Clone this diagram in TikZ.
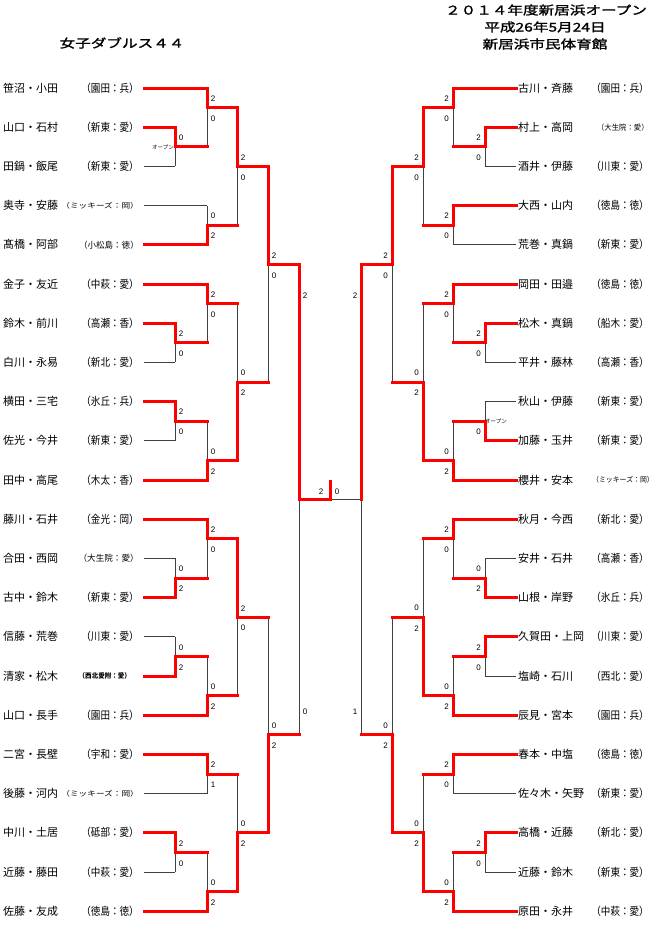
\documentclass[tikz,border=0pt]{standalone}
\usepackage{fontspec}
\usepackage{graphicx}
\setmainfont{Noto Sans CJK JP}
\newfontfamily\ttlfont[FakeStretch=1.3,FakeBold=1.5]{Noto Sans CJK JP}
\newfontfamily\clubfont[FakeStretch=0.87]{Noto Sans CJK JP}
\newfontfamily\scfont{Liberation Sans}
\pgfdeclarelayer{front}
\pgfsetlayers{main,front}
\tikzset{
  win/.style={draw=red, line width=3pt, line cap=rect},
  lose/.style={draw=black!75, line width=0.9pt},
  nm/.style={anchor=west, inner sep=0pt, font=\fontsize{11}{12}\selectfont},
  club/.style={anchor=east, inner sep=0pt, font=\clubfont\fontsize{11}{12}\selectfont},
  scr/.style={inner sep=0pt, font=\scfont\fontsize{8}{9}\selectfont},
  opn/.style={inner sep=0pt, font=\fontsize{5.5}{6}\selectfont},
  ttl/.style={inner sep=0pt, font=\ttlfont\fontsize{12}{13}\selectfont},
}
\newcommand\Ry[1]{(88+39.2*(#1))}
\newcommand\seg[3]{\ifnum#1=1\relax\begin{pgfonlayer}{front}\draw[win] #2 -- #3;\end{pgfonlayer}\else\draw[lose] #2 -- #3;\fi}
\newcommand\PL[4]{\seg{#4}{(#1,{\Ry{#3}})}{(#2,{\Ry{#3}})}}
\newcommand\MT[5]{\ifnum#5=1\relax
  \seg{1}{(#1,{\Ry{#2}})}{(#1,{\Ry{#3}})}\seg{0}{(#1,{\Ry{#3}})}{(#1,{\Ry{#4}})}%
  \else
  \seg{0}{(#1,{\Ry{#2}})}{(#1,{\Ry{#3}})}\seg{1}{(#1,{\Ry{#3}})}{(#1,{\Ry{#4}})}%
  \fi}
\newcounter{scn}
\newcommand\SL[4]{\stepcounter{scn}\node[scr] (s\arabic{scn}) at ({#1+6},{\Ry{#2}-9}) {#3};%
  \stepcounter{scn}\node[scr] (s\arabic{scn}) at ({#1+6},{\Ry{#2}+11}) {#4};}
\newcommand\SR[4]{\stepcounter{scn}\node[scr] (s\arabic{scn}) at ({#1-6.5},{\Ry{#2}-9}) {#3};%
  \stepcounter{scn}\node[scr] (s\arabic{scn}) at ({#1-6.5},{\Ry{#2}+11}) {#4};}
\newcommand\NL[3]{\node[nm] (nl#1) at (3,{\Ry{#1}}) {#2};\node[club] (cl#1) at (139,{\Ry{#1}}) {#3};}
\newcommand\NR[4][649]{\node[nm] (nr#2) at (518,{\Ry{#2}}) {#3};\node[club] (cr#2) at (#1,{\Ry{#2}}) {#4};}
\newcommand\sm[3]{{\fontsize{#1}{#1}\selectfont\scalebox{#2}[1]{#3}}}
\begin{document}
\begin{tikzpicture}[x=1pt,y=-1pt]
\fill[white] (0,0) rectangle (660,934);
\useasboundingbox (0,0) rectangle (660,934);
% titles
\node[ttl] (t0) at (122,43) {女子ダブルス４４};
\node[ttl] (t1) at (546,10) {２０１４年度新居浜オープン};
\node[ttl] (t2) at (545,27) {平成26年5月24日};
\node[ttl] (t3) at (545,44) {新居浜市民体育館};
% left names
\NL{0}{笹沼・小田}{（園田：兵）}
\NL{1}{山口・石村}{（新東：愛）}
\NL{2}{田鍋・飯尾}{（新東：愛）}
\NL{3}{奥寺・安藤}{\sm{7.2}{1.38}{（ミッキーズ：岡）}}
\NL{4}{髙橋・阿部}{\sm{8.6}{1.14}{（小松島：徳）}}
\NL{5}{金子・友近}{（中萩：愛）}
\NL{6}{鈴木・前川}{（高瀬：香）}
\NL{7}{白川・永易}{（新北：愛）}
\NL{8}{横田・三宅}{（氷丘：兵）}
\NL{9}{佐光・今井}{（新東：愛）}
\NL{10}{田中・高尾}{（木太：香）}
\NL{11}{藤川・石井}{（金光：岡）}
\NL{12}{合田・西岡}{\sm{8.6}{1.15}{（大生院：愛）}}
\NL{13}{古中・鈴木}{（新東：愛）}
\NL{14}{信藤・荒巻}{（川東：愛）}
\node[nm] (nl15) at (3,{\Ry{15}}) {清家・松木};
\node[club] (cl15) at (131,{\Ry{15}}) {\sm{6.8}{1.1}{\bfseries （西北愛附：愛）}};
\NL{16}{山口・長手}{（園田：兵）}
\NL{17}{二宮・長壁}{（宇和：愛）}
\NL{18}{後藤・河内}{\sm{7.2}{1.38}{（ミッキーズ：岡）}}
\NL{19}{中川・土居}{（砥部：愛）}
\NL{20}{近藤・藤田}{（中萩：愛）}
\NL{21}{佐藤・友成}{（徳島：徳）}
% right names
\NR{0}{古川・斉藤}{（園田：兵）}
\NR{1}{村上・高岡}{\sm{7.6}{1.12}{（大生院：愛）}}
\NR{2}{酒井・伊藤}{（川東：愛）}
\NR{3}{大西・山内}{（徳島：徳）}
\NR{4}{荒巻・真鍋}{（新東：愛）}
\NR{5}{岡田・田邉}{（徳島：徳）}
\NR{6}{松木・真鍋}{（船木：愛）}
\NR{7}{平井・藤林}{（高瀬：香）}
\NR{8}{秋山・伊藤}{（新東：愛）}
\NR{9}{加藤・玉井}{（新東：愛）}
\NR[654]{10}{櫻井・安本}{\sm{7.2}{1.1}{（ミッキーズ：岡）}}
\NR{11}{秋月・今西}{（新北：愛）}
\NR{12}{安井・石井}{（高瀬：香）}
\NR{13}{山根・岸野}{（氷丘：兵）}
\NR{14}{久賀田・上岡}{（川東：愛）}
\NR{15}{塩崎・石川}{（西北：愛）}
\NR{16}{辰見・宮本}{（園田：兵）}
\NR{17}{春本・中塩}{（徳島：徳）}
\NR{18}{佐々木・矢野}{（新東：愛）}
\NR{19}{高橋・近藤}{（新北：愛）}
\NR{20}{近藤・鈴木}{（新東：愛）}
\NR{21}{原田・永井}{（中萩：愛）}
% ---------------- left bracket
\PL{144}{207}{0}{1}\PL{144}{175}{1}{1}\PL{144}{175}{2}{0}\PL{144}{207}{3}{0}
\PL{144}{207}{4}{1}\PL{144}{207}{5}{1}\PL{144}{175}{6}{1}\PL{144}{175}{7}{0}
\PL{144}{175}{8}{1}\PL{144}{175}{9}{0}\PL{144}{207}{10}{1}\PL{144}{207}{11}{1}
\PL{144}{175}{12}{0}\PL{144}{175}{13}{1}\PL{144}{175}{14}{0}\PL{144}{175}{15}{1}
\PL{144}{207}{16}{1}\PL{144}{207}{17}{1}\PL{144}{207}{18}{0}\PL{144}{175}{19}{1}
\PL{144}{175}{20}{0}\PL{144}{207}{21}{1}
\MT{175}{1}{1.5}{2}{1}\PL{175}{207}{1.5}{1}
\MT{175}{6}{6.5}{7}{1}\PL{175}{207}{6.5}{1}
\MT{175}{8}{8.5}{9}{1}\PL{175}{207}{8.5}{1}
\MT{175}{12}{12.5}{13}{0}\PL{175}{207}{12.5}{1}
\MT{175}{14}{14.5}{15}{0}\PL{175}{207}{14.5}{1}
\MT{175}{19}{19.5}{20}{1}\PL{175}{207}{19.5}{1}
\MT{207}{0}{0.5}{1.5}{1}\PL{207}{237}{0.5}{1}
\MT{207}{3}{3.5}{4}{0}\PL{207}{237}{3.5}{1}
\MT{207}{5}{5.5}{6.5}{1}\PL{207}{237}{5.5}{1}
\MT{207}{8.5}{9.5}{10}{0}\PL{207}{237}{9.5}{1}
\MT{207}{11}{11.5}{12.5}{1}\PL{207}{237}{11.5}{1}
\MT{207}{14.5}{15.5}{16}{0}\PL{207}{237}{15.5}{1}
\MT{207}{17}{17.5}{18}{1}\PL{207}{237}{17.5}{1}
\MT{207}{19.5}{20.5}{21}{0}\PL{207}{237}{20.5}{1}
\MT{237}{0.5}{2}{3.5}{1}\PL{237}{268}{2}{1}
\MT{237}{5.5}{7.5}{9.5}{0}\PL{237}{268}{7.5}{1}
\MT{237}{11.5}{13.5}{15.5}{1}\PL{237}{268}{13.5}{1}
\MT{237}{17.5}{19}{20.5}{0}\PL{237}{268}{19}{1}
\MT{268}{2}{4.5}{7.5}{1}\PL{268}{299}{4.5}{1}
\MT{268}{13.5}{16.5}{19}{0}\PL{268}{299}{16.5}{1}
\MT{299}{4.5}{10.5}{16.5}{1}\PL{299}{330}{10.5}{1}
\coordinate (fin) at (330,{\Ry{10.5}});
\coordinate (fintop) at (330,{\Ry{10.5}-18});
\seg{1}{(fin)}{(fintop)}
% ---------------- right bracket
\PL{516}{453}{0}{1}\PL{516}{485}{1}{1}\PL{516}{485}{2}{0}\PL{516}{453}{3}{1}
\PL{516}{453}{4}{0}\PL{516}{453}{5}{1}\PL{516}{485}{6}{1}\PL{516}{485}{7}{0}
\PL{516}{485}{8}{0}\PL{516}{485}{9}{1}\PL{516}{453}{10}{1}\PL{516}{453}{11}{1}
\PL{516}{485}{12}{0}\PL{516}{485}{13}{1}\PL{516}{485}{14}{1}\PL{516}{485}{15}{0}
\PL{516}{453}{16}{1}\PL{516}{453}{17}{1}\PL{516}{453}{18}{0}\PL{516}{485}{19}{1}
\PL{516}{485}{20}{0}\PL{516}{453}{21}{1}
\MT{485}{1}{1.5}{2}{1}\PL{485}{453}{1.5}{1}
\MT{485}{6}{6.5}{7}{1}\PL{485}{453}{6.5}{1}
\MT{485}{8}{8.5}{9}{0}\PL{485}{453}{8.5}{1}
\MT{485}{12}{12.5}{13}{0}\PL{485}{453}{12.5}{1}
\MT{485}{14}{14.5}{15}{1}\PL{485}{453}{14.5}{1}
\MT{485}{19}{19.5}{20}{1}\PL{485}{453}{19.5}{1}
\MT{453}{0}{0.5}{1.5}{1}\PL{453}{423}{0.5}{1}
\MT{453}{3}{3.5}{4}{1}\PL{453}{423}{3.5}{1}
\MT{453}{5}{5.5}{6.5}{1}\PL{453}{423}{5.5}{1}
\MT{453}{8.5}{9.5}{10}{0}\PL{453}{423}{9.5}{1}
\MT{453}{11}{11.5}{12.5}{1}\PL{453}{423}{11.5}{1}
\MT{453}{14.5}{15.5}{16}{0}\PL{453}{423}{15.5}{1}
\MT{453}{17}{17.5}{18}{1}\PL{453}{423}{17.5}{1}
\MT{453}{19.5}{20.5}{21}{0}\PL{453}{423}{20.5}{1}
\MT{423}{0.5}{2}{3.5}{1}\PL{423}{392}{2}{1}
\MT{423}{5.5}{7.5}{9.5}{0}\PL{423}{392}{7.5}{1}
\MT{423}{11.5}{13.5}{15.5}{0}\PL{423}{392}{13.5}{1}
\MT{423}{17.5}{19}{20.5}{0}\PL{423}{392}{19}{1}
\MT{392}{2}{4.5}{7.5}{1}\PL{392}{361}{4.5}{1}
\MT{392}{13.5}{16.5}{19}{0}\PL{392}{361}{16.5}{1}
\MT{361}{4.5}{10.5}{16.5}{1}\PL{361}{330}{10.5}{0}
% ---------------- scores
\SL{175}{1.5}{0}{}\SL{175}{6.5}{2}{0}\SL{175}{8.5}{2}{0}\SL{175}{12.5}{0}{2}\SL{175}{14.5}{0}{2}\SL{175}{19.5}{2}{0}
\SL{207}{0.5}{2}{0}\SL{207}{3.5}{0}{2}\SL{207}{5.5}{2}{0}\SL{207}{9.5}{0}{2}\SL{207}{11.5}{2}{0}\SL{207}{15.5}{0}{2}\SL{207}{17.5}{2}{1}\SL{207}{20.5}{0}{2}
\SL{237}{2}{2}{0}\SL{237}{7.5}{0}{2}\SL{237}{13.5}{2}{0}\SL{237}{19}{0}{2}
\SL{268}{4.5}{2}{0}\SL{268}{16.5}{0}{2}
\SR{485}{1.5}{2}{0}\SR{485}{6.5}{2}{0}\SR{485}{8.5}{}{0}\SR{485}{12.5}{0}{2}\SR{485}{14.5}{2}{0}\SR{485}{19.5}{2}{0}
\SR{453}{0.5}{2}{0}\SR{453}{3.5}{2}{0}\SR{453}{5.5}{2}{0}\SR{453}{9.5}{0}{2}\SR{453}{11.5}{2}{0}\SR{453}{15.5}{0}{2}\SR{453}{17.5}{2}{0}\SR{453}{20.5}{0}{2}
\SR{423}{2}{2}{0}\SR{423}{7.5}{0}{2}\SR{423}{13.5}{0}{2}\SR{423}{19}{0}{2}
\SR{392}{4.5}{2}{0}\SR{392}{16.5}{0}{2}
\node[scr] (sfl1) at (305,296) {2};
\node[scr] (sfl2) at (305,712) {0};
\node[scr] (sfr1) at (355,296) {2};
\node[scr] (sfr2) at (355,712) {1};
\node[scr] (fl) at (321,492) {2};
\node[scr] (fr) at (337,492) {0};
\node[opn] (op1) at (163,147) {オープン};
\node[opn] (op2) at (496,421) {オープン};
\end{tikzpicture}
\end{document}
